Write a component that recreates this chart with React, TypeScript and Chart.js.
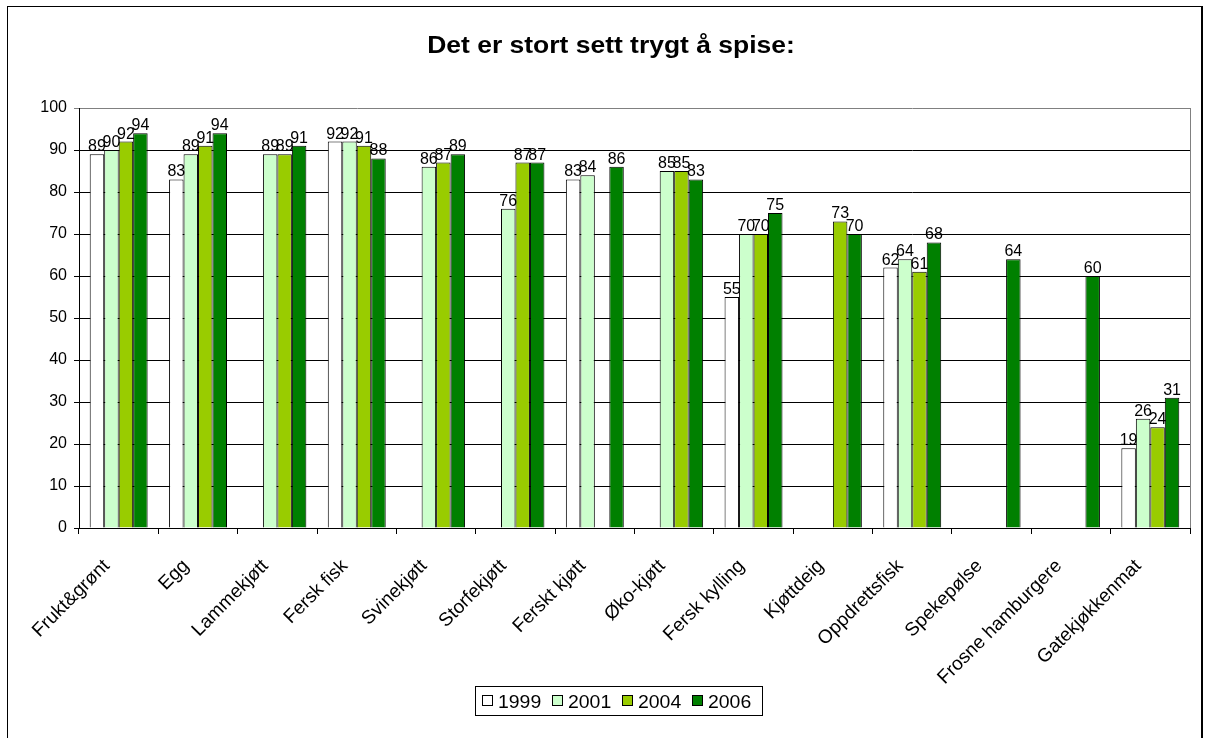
import React, { useEffect, useRef } from "react";
import { Chart, registerables } from "chart.js";

Chart.register(...registerables);

const categories = [
  "Frukt&grønt", "Egg", "Lammekjøtt", "Fersk fisk", "Svinekjøtt", "Storfekjøtt",
  "Ferskt kjøtt", "Øko-kjøtt", "Fersk kylling", "Kjøttdeig", "Oppdrettsfisk",
  "Spekepølse", "Frosne hamburgere", "Gatekjøkkenmat",
];
const seriesNames = ["1999", "2001", "2004", "2006"];
const values1999 = [89, 83, null, 92, null, null, 83, null, 55, null, 62, null, null, 19];
const values2001 = [90, 89, 89, 92, 86, 76, 84, 85, 70, null, 64, null, null, 26];
const values2004 = [92, 91, 89, 91, 87, 87, null, 85, 70, 73, 61, null, null, 24];
const values2006 = [94, 94, 91, 88, 89, 87, 86, 83, 75, 70, 68, 64, 60, 31];
const seriesColors = ["#FFFFFF", "#CCFFCC", "#99CC00", "#008000"];
const titleText = "Det er stort sett trygt å spise:";

const FONT = "Arial, 'Liberation Sans', sans-serif";

const decorPlugin = {
  id: "decor",
  afterDatasetsDraw(chart: any) {
    const ctx = chart.ctx;
    const area = chart.chartArea;
    ctx.save();
    ctx.strokeStyle = "#808080";
    ctx.lineWidth = 1;
    ctx.beginPath();
    ctx.moveTo(Math.round(area.right) + 0.5, area.top);
    ctx.lineTo(Math.round(area.right) + 0.5, area.bottom);
    ctx.stroke();
    ctx.restore();
    ctx.save();
    ctx.fillStyle = "#000";
    ctx.font = `16px ${FONT}`;
    ctx.textAlign = "center";
    ctx.textBaseline = "alphabetic";
    chart.data.datasets.forEach((ds: any, di: number) => {
      const meta = chart.getDatasetMeta(di);
      meta.data.forEach((el: any, i: number) => {
        const v = ds.data[i];
        if (v === null || v === undefined) return;
        ctx.fillText(String(v), el.x, el.y - 3);
      });
    });
    ctx.restore();
  },
  afterDraw(chart: any) {
    const ctx = chart.ctx;
    ctx.save();
    ctx.strokeStyle = "#000";
    ctx.lineWidth = 1;
    ctx.strokeRect(7.5, 6.5, 1194, 760);
    ctx.fillStyle = "#000";
    ctx.fillRect(1201, 6, 2, 740);
    ctx.font = `bold 23px ${FONT}`;
    ctx.textAlign = "center";
    ctx.textBaseline = "alphabetic";
    ctx.translate(611, 53);
    ctx.scale(1.15, 1);
    ctx.fillText(titleText, 0, 0);
    ctx.restore();
    ctx.save();
    ctx.strokeStyle = "#000";
    ctx.lineWidth = 1;
    ctx.strokeRect(475.5, 686.5, 287, 29);
    const startX = 482;
    const step = 70;
    seriesNames.forEach((name, i) => {
      const x = startX + step * i;
      ctx.fillStyle = seriesColors[i];
      ctx.fillRect(x, 695, 10, 10);
      ctx.strokeStyle = "#000";
      ctx.strokeRect(x + 0.5, 695.5, 10, 10);
      ctx.save();
      ctx.fillStyle = "#000";
      ctx.font = `18px ${FONT}`;
      ctx.textAlign = "left";
      ctx.textBaseline = "alphabetic";
      ctx.translate(x + 16, 708);
      ctx.scale(1.08, 1);
      ctx.fillText(name, 0, 0);
      ctx.restore();
    });
    ctx.restore();
  },
};

export default function App() {
  const canvasRef = useRef<HTMLCanvasElement | null>(null);

  useEffect(() => {
    document.body.style.margin = "0";
    const canvas = canvasRef.current;
    if (!canvas) return;
    const allValues = [values1999, values2001, values2004, values2006];
    const chart = new Chart(canvas, {
      type: "bar",
      data: {
        labels: categories,
        datasets: seriesNames.map((name, i) => ({
          label: name,
          data: allValues[i],
          backgroundColor: seriesColors[i],
          borderColor: "#000000",
          borderWidth: 1,
          categoryPercentage: 0.73,
          barPercentage: 1,
        })),
      },
      options: {
        animation: false,
        responsive: false,
        maintainAspectRatio: false,
        layout: { padding: { left: 0, right: 16, top: 108, bottom: 20 } },
        plugins: {
          legend: { display: false },
          title: { display: false },
          tooltip: { enabled: false },
        },
        scales: {
          x: {
            grid: {
              display: true,
              drawOnChartArea: false,
              drawTicks: true,
              tickLength: 6,
              color: "#000",
              offset: true,
            },
            border: { display: true, color: "#000", width: 1 },
            ticks: {
              color: "#000",
              font: { family: FONT, size: 19 },
              minRotation: 45,
              maxRotation: 45,
              autoSkip: false,
              padding: 21,
              labelOffset: -12,
            },
            afterFit(scale: any) {
              scale.height = 190;
              scale.paddingLeft = 0;
              scale.paddingRight = 0;
            },
          },
          y: {
            min: 0,
            max: 100,
            ticks: {
              stepSize: 10,
              color: "#000",
              font: { family: FONT, size: 16 },
              padding: 7,
            },
            grid: {
              color: (c: any) => (c.tick && c.tick.value === 100 ? "#808080" : "#000"),
              lineWidth: 1,
              tickLength: 5,
              drawTicks: true,
            },
            border: { display: true, color: "#000", width: 1 },
            afterFit(scale: any) {
              scale.width = 79;
              scale.paddingTop = 0;
              scale.paddingBottom = 0;
            },
          },
        },
      },
      plugins: [decorPlugin],
    });
    return () => chart.destroy();
  }, []);

  return (
    <div style={{ position: "absolute", left: 0, top: 0, width: 1206, height: 738, background: "#fff" }}>
      <canvas ref={canvasRef} width={1206} height={738} />
    </div>
  );
}
